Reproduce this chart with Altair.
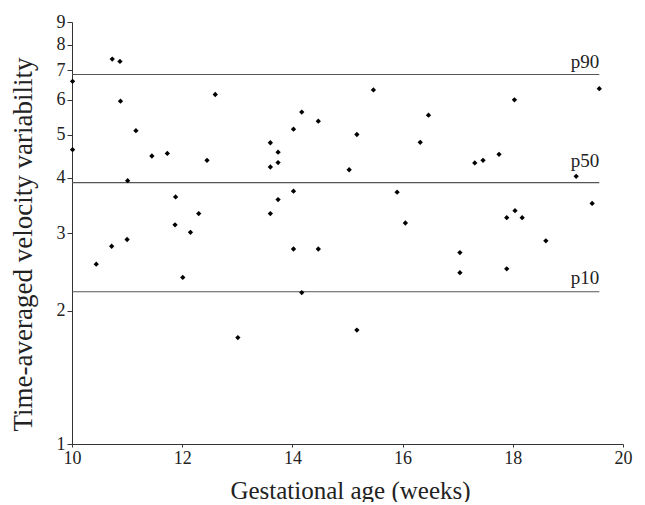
import altair as alt
import pandas as pd

# Scatter data: gestational age (weeks) and time-averaged velocity variability
ga = [10.01, 10.73, 10.87, 10.88, 12.60, 11.16, 10.01, 11.45, 11.73, 12.45,
      11.01, 11.88, 12.30, 11.87, 12.15, 10.72, 11.00, 13.60, 13.74, 13.74,
      13.60, 14.02, 14.17, 14.47, 14.02, 13.74, 13.60, 14.02, 14.47, 15.47,
      16.47, 15.17, 16.32, 15.03, 18.03, 19.57, 17.31, 17.46, 17.75, 19.15,
      15.90, 16.05, 17.89, 18.04, 18.17, 19.44, 18.60, 17.04, 17.04, 17.89,
      10.44, 12.01, 14.17, 13.01, 15.17]
tav = [6.61, 7.42, 7.33, 5.96, 6.17, 5.11, 4.63, 4.48, 4.54, 4.38,
       3.94, 3.62, 3.32, 3.13, 3.01, 2.80, 2.90, 4.80, 4.57, 4.33,
       4.23, 5.15, 5.63, 5.37, 3.73, 3.57, 3.32, 2.76, 2.76, 6.32,
       5.54, 5.01, 4.81, 4.17, 6.00, 6.36, 4.32, 4.38, 4.52, 4.03,
       3.71, 3.16, 3.25, 3.37, 3.25, 3.50, 2.88, 2.71, 2.44, 2.49,
       2.55, 2.38, 2.20, 1.74, 1.81]

# Reference percentiles
pct_names = ["p90", "p50", "p10"]
pct_values = [6.85, 3.90, 2.21]
pct_start = [10.0, 10.0, 10.0]
pct_end = [19.57, 19.57, 19.57]

x_ticks = [10, 12, 14, 16, 18, 20]
y_ticks = [1, 2, 3, 4, 5, 6, 7, 8, 9]

pts = pd.DataFrame({"ga": ga, "tav": tav})
pct = pd.DataFrame({"name": pct_names, "v": pct_values, "x0": pct_start, "x1": pct_end})

FONT = "Liberation Serif"

xs = alt.Scale(domain=[10, 20], nice=False, zero=False)
ys = alt.Scale(type="log", domain=[1, 9], nice=False)

x_axis = alt.Axis(values=x_ticks, title="Gestational age (weeks)", grid=False,
                  labelFont=FONT, labelFontSize=18, labelColor="#222", labelFlush=False,
                  titleFont=FONT, titleFontSize=25, titleFontWeight="normal", titleColor="#222",
                  tickSize=3, labelPadding=2, domainColor="#333", tickColor="#333",
                  titleX=278, titleY=54, titleBaseline="alphabetic", titleAnchor="middle")
y_axis = alt.Axis(values=y_ticks, format="d", title="Time-averaged velocity variability", grid=False,
                  labelFont=FONT, labelFontSize=18, labelColor="#222", labelFlush=False,
                  titleFont=FONT, titleFontSize=27, titleFontWeight="normal", titleColor="#222",
                  tickSize=5, labelPadding=2, domainColor="#333", tickColor="#333",
                  titleX=-41, titleY=222, titleAngle=-90, titleAlign="center",
                  titleBaseline="alphabetic")

points = alt.Chart(pts).mark_point(shape="diamond", filled=True, color="black",
                                   size=28, opacity=1).encode(
    x=alt.X("ga:Q", scale=xs, axis=x_axis),
    y=alt.Y("tav:Q", scale=ys, axis=y_axis),
)

rules = alt.Chart(pct).mark_rule(color="#555", strokeWidth=1.1).encode(
    x=alt.X("x0:Q", scale=xs),
    x2="x1:Q",
    y=alt.Y("v:Q", scale=ys),
)

def label(name, dy):
    return alt.Chart(pct).transform_filter(alt.datum.name == name).mark_text(
        font=FONT, fontSize=19, color="#222", align="right", baseline="alphabetic", dy=dy
    ).encode(
        x=alt.X("x1:Q", scale=xs),
        y=alt.Y("v:Q", scale=ys),
        text="name:N",
    )

chart = alt.layer(
    rules, points, label("p90", -6), label("p50", -16), label("p10", -8)
).properties(
    width=551, height=422,
    background="white",
    autosize=alt.AutoSizeParams(type="none"),
    padding={"left": 64, "top": 14, "right": 12, "bottom": 58},
).configure_view(strokeWidth=0, stroke=None)

chart.save("out.html", embed_options={"renderer": "svg", "actions": False})
